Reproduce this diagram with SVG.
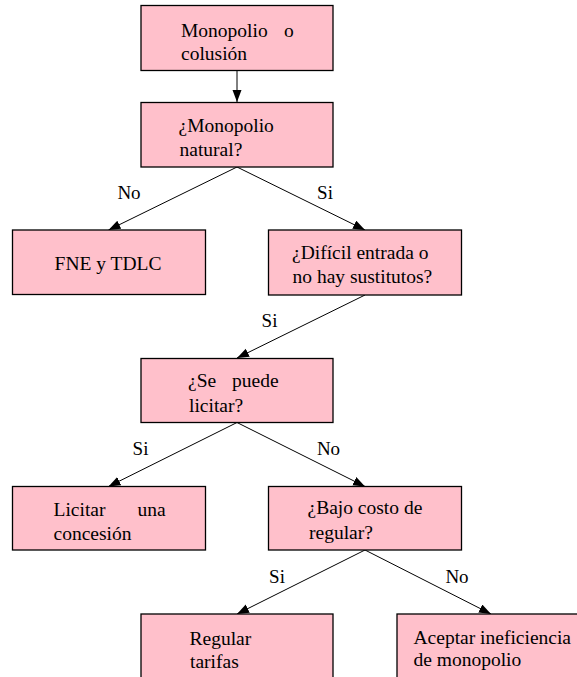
<svg xmlns="http://www.w3.org/2000/svg" width="577" height="677" viewBox="0 0 577 677" font-family="'Liberation Serif', 'Times New Roman', serif">
<defs>
<style>
text{font-family:"Liberation Serif","Times New Roman",serif}
.box{fill:#FFC0CB;stroke:#000;stroke-width:1.3}
.t{font-size:19.5px;fill:#000}
.lbl{font-size:19px;fill:#000;text-anchor:middle}
.edge{stroke:#000;stroke-width:1;fill:none;marker-end:url(#arr)}
</style>
<marker id="arr" markerUnits="userSpaceOnUse" markerWidth="13" markerHeight="10" refX="12" refY="4.5" orient="auto">
<path d="M0,0 L12,4.5 L0,9 Z" fill="#000"/>
</marker>
</defs>
<rect width="577" height="677" fill="#fff"/>
<g id="connectors">
<line class="edge" x1="237" y1="70.5" x2="237" y2="102"/>
<line class="edge" x1="237" y1="167" x2="108.5" y2="230"/>
<line class="edge" x1="237" y1="167" x2="365" y2="230"/>
<line class="edge" x1="365" y1="295" x2="237" y2="358"/>
<line class="edge" x1="237" y1="422.5" x2="108.5" y2="486.5"/>
<line class="edge" x1="237" y1="422.5" x2="365" y2="486.5"/>
<line class="edge" x1="365" y1="550" x2="237" y2="614"/>
<line class="edge" x1="365" y1="550" x2="491" y2="614"/>
<text class="lbl" x="129" y="199">No</text>
<text class="lbl" x="325" y="199">Si</text>
<text class="lbl" x="269.5" y="327">Si</text>
<text class="lbl" x="140.5" y="455">Si</text>
<text class="lbl" x="328.5" y="455">No</text>
<text class="lbl" x="277" y="583">Si</text>
<text class="lbl" x="457" y="583">No</text>
</g>
<g id="n1">
<rect class="box" x="141" y="5.5" width="192" height="65"/>
<text class="t" y="37"><tspan x="181">Monopolio</tspan><tspan x="284">o</tspan></text>
<text class="t" x="181" y="60">colusión</text>
</g>
<g id="n2">
<rect class="box" x="141" y="102.5" width="192" height="64.5"/>
<text class="t" x="178.5" y="132">¿Monopolio</text>
<text class="t" x="179.5" y="156">natural?</text>
</g>
<g id="n3">
<rect class="box" x="12.5" y="230" width="193" height="64.5"/>
<text class="t" x="108" y="270" text-anchor="middle">FNE y TDLC</text>
</g>
<g id="n4">
<rect class="box" x="268.5" y="230" width="193" height="65"/>
<text class="t" x="292" y="259">¿Difícil entrada o</text>
<text class="t" x="292.5" y="283">no hay sustitutos?</text>
</g>
<g id="n5">
<rect class="box" x="141" y="358.5" width="192" height="64"/>
<text class="t" y="387"><tspan x="188">¿Se</tspan><tspan x="232">puede</tspan></text>
<text class="t" x="189" y="412">licitar?</text>
</g>
<g id="n6">
<rect class="box" x="12.5" y="486.5" width="193" height="63.5"/>
<text class="t" y="515.5"><tspan x="53.5">Licitar</tspan><tspan x="137.5">una</tspan></text>
<text class="t" x="53.5" y="540">concesión</text>
</g>
<g id="n7">
<rect class="box" x="268.5" y="486.5" width="193" height="63.5"/>
<text class="t" x="307.5" y="513.5">¿Bajo costo de</text>
<text class="t" x="309" y="538.5">regular?</text>
</g>
<g id="n8">
<rect class="box" x="141" y="614" width="192" height="66"/>
<text class="t" x="189.5" y="644.5">Regular</text>
<text class="t" x="190" y="668">tarifas</text>
</g>
<g id="n9">
<rect class="box" x="397" y="614" width="193" height="66"/>
<text class="t" x="413.5" y="643.5">Aceptar ineficiencia</text>
<text class="t" x="413.5" y="665.5">de monopolio</text>
</g>
</svg>
